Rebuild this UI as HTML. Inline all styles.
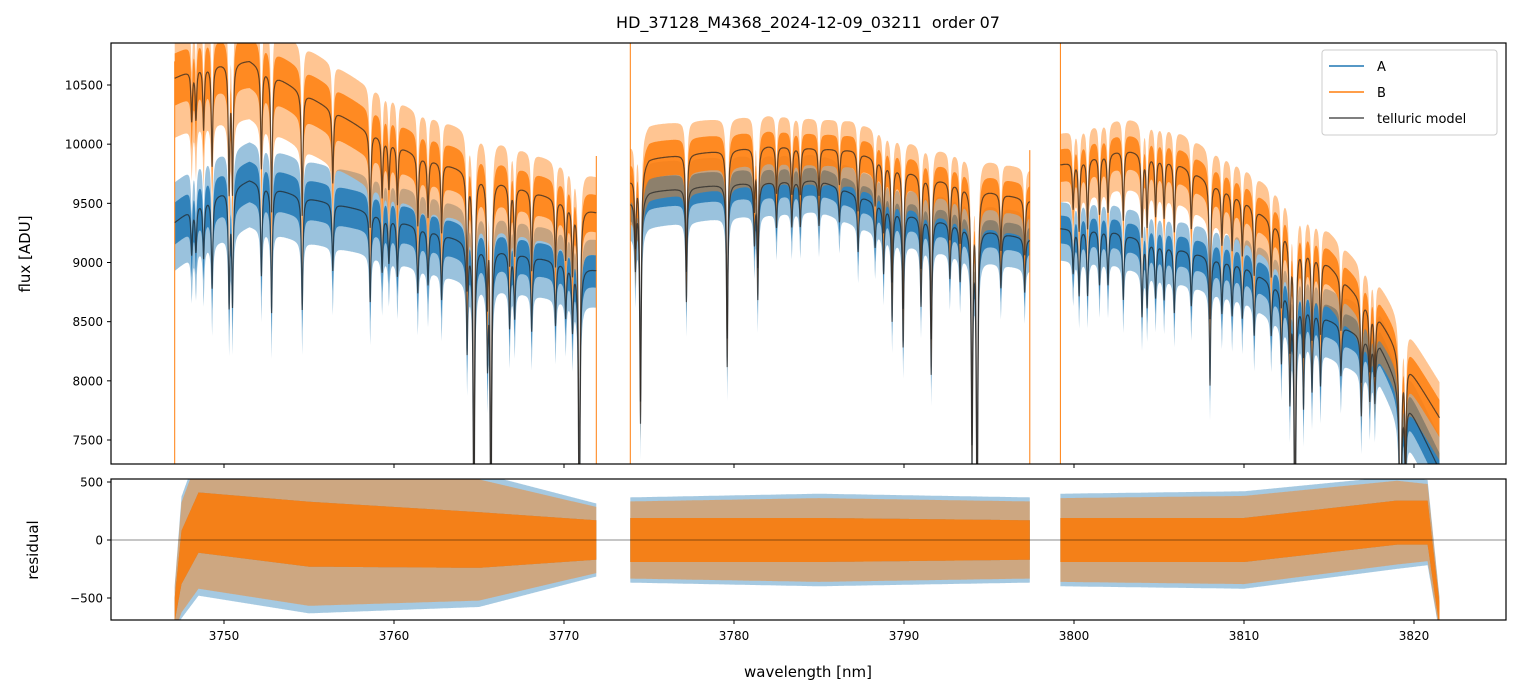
<!DOCTYPE html>
<html><head><meta charset="utf-8">
<style>
html,body{margin:0;padding:0;background:#fff;width:1520px;height:696px;overflow:hidden;}
svg{display:block;font-family:"DejaVu Sans","Liberation Sans",sans-serif;}
</style></head>
<body>
<svg id="chart" width="1520" height="696" viewBox="0 0 1520 696" xmlns="http://www.w3.org/2000/svg">
<defs>
<clipPath id="clipTop"><rect x="111" y="43" width="1395" height="421"/></clipPath>
<clipPath id="clipRes"><rect x="111" y="479" width="1395" height="141"/></clipPath>
</defs>
<text x="808" y="28" font-size="16" text-anchor="middle" fill="#000" style="white-space:pre">HD_37128_M4368_2024-12-09_03211  order 07</text>
<g id="topG" clip-path="url(#clipTop)"></g>
<g id="resG" clip-path="url(#clipRes)"></g>
<rect x="111" y="43" width="1395" height="421" fill="none" stroke="#000" stroke-width="1.2"/>
<rect x="111" y="479" width="1395" height="141" fill="none" stroke="#000" stroke-width="1.2"/>
<g id="axesG"></g>
<text x="0" y="0" font-size="15" text-anchor="middle" transform="translate(30,254) rotate(-90)">flux [ADU]</text>
<text x="0" y="0" font-size="15" text-anchor="middle" transform="translate(38,550) rotate(-90)">residual</text>
<text x="808" y="677" font-size="15" text-anchor="middle">wavelength [nm]</text>
<g id="legendG">
<rect x="1322" y="50" width="175" height="85" rx="3" fill="#fff" fill-opacity="0.85" stroke="#ccc"/>
<line x1="1329" y1="66" x2="1364" y2="66" stroke="#1f77b4" stroke-width="1.5"/>
<text x="1377" y="71" font-size="13">A</text>
<line x1="1329" y1="92" x2="1364" y2="92" stroke="#ff7f0e" stroke-width="1.5"/>
<text x="1377" y="97" font-size="13">B</text>
<line x1="1329" y1="118" x2="1364" y2="118" stroke="#555" stroke-width="1.5"/>
<text x="1377" y="123" font-size="13">telluric model</text>
</g>
</svg>
<script>
// ---- data ----
const segments = [[3747.1, 3771.9], [3773.9, 3797.4], [3799.2, 3821.5]];
const contAWl = [3747.1, 3748.5, 3751.5, 3754.5, 3758, 3761.5, 3765, 3771.9, 3773.9, 3775, 3780, 3785, 3790, 3797.4, 3799.2, 3802, 3805, 3810, 3815, 3818, 3821.5];
const contAVal = [9340, 9500, 9700, 9560, 9450, 9300, 9150, 8940, 9520, 9600, 9670, 9700, 9420, 9200, 9290, 9280, 9160, 8980, 8520, 8300, 7250];
const contBWl = [3747.1, 3748.5, 3751.5, 3754.5, 3758, 3761.5, 3765, 3771.9, 3773.9, 3775, 3782, 3787, 3791, 3797.4, 3799.2, 3803, 3806, 3810, 3815, 3818, 3821.5];
const contBVal = [10560, 10660, 10710, 10450, 10150, 9900, 9750, 9430, 9700, 9880, 9990, 9950, 9740, 9530, 9830, 9960, 9850, 9530, 8980, 8520, 7690];
const lineWl = [3748.1, 3748.35, 3748.8, 3749.3, 3750.3, 3750.5, 3752.2, 3752.8, 3754.6, 3756.4, 3758.6, 3759.3, 3759.7, 3760.2, 3761.4, 3762.0, 3762.8, 3764.3, 3764.7, 3765.5, 3765.7, 3766.8, 3767.1, 3768.1, 3769.5, 3770.1, 3770.5, 3770.9,
  3774.2, 3774.5, 3777.2, 3779.6, 3781.2, 3781.4, 3782.5, 3783.4, 3783.9, 3785.0, 3786.2, 3787.3, 3788.3, 3788.8, 3789.3, 3789.95, 3791.0, 3791.6, 3792.7, 3793.3, 3794.0, 3794.3, 3795.7, 3797.1,
  3799.95, 3800.3, 3800.8, 3801.5, 3802.0, 3802.9, 3804.0, 3804.3, 3804.8, 3805.3, 3805.9, 3806.9, 3808.0, 3808.7, 3809.3, 3809.9, 3810.6, 3811.6, 3812.2, 3812.7, 3813.0, 3813.5, 3814.0, 3814.5, 3815.7, 3816.9, 3817.4, 3817.7, 3819.2, 3819.5];
const lineDepth = [0.04, 0.04, 0.05, 0.08, 0.1, 0.1, 0.08, 0.11, 0.1, 0.06, 0.08, 0.05, 0.04, 0.05, 0.06, 0.05, 0.06, 0.1, 0.3, 0.1, 0.3, 0.07, 0.06, 0.07, 0.06, 0.05, 0.06, 0.3,
  0.06, 0.2, 0.1, 0.16, 0.05, 0.1, 0.04, 0.04, 0.04, 0.04, 0.03, 0.05, 0.04, 0.06, 0.1, 0.12, 0.08, 0.14, 0.05, 0.05, 0.22, 0.3, 0.05, 0.05,
  0.04, 0.06, 0.06, 0.05, 0.05, 0.06, 0.07, 0.06, 0.05, 0.05, 0.06, 0.05, 0.12, 0.05, 0.05, 0.05, 0.06, 0.05, 0.07, 0.1, 0.3, 0.1, 0.08, 0.07, 0.05, 0.08, 0.06, 0.06, 0.3, 0.1];
const noiseWl = [3747.1, 3760, 3771.9, 3785, 3797.4, 3810, 3821.5];
const noiseA = [340, 300, 260, 220, 220, 250, 280];
const noiseB = [420, 380, 300, 250, 260, 280, 300];
const resWl = [3747.1, 3747.5, 3748.5, 3755, 3765, 3771.9, 3773.9, 3785, 3797.4, 3799.2, 3810, 3819, 3820.8, 3821.5];
const resCenter = [-600, -150, 150, 50, 0, 0, 0, 0, 0, 0, 0, 150, 150, -650];
const resCore = [100, 230, 260, 280, 240, 170, 190, 190, 170, 190, 190, 190, 190, 100];
const resSpike = [200, 500, 600, 650, 550, 300, 350, 380, 350, 380, 400, 380, 350, 150];
const edgeSpikeWl = [3747.1, 3771.9, 3773.9, 3797.4, 3799.2];
const edgeSpikeTop = [10700, 9900, 12000, 9950, 12000];
const xTicks = [3750, 3760, 3770, 3780, 3790, 3800, 3810, 3820];
const yTicks = [7500, 8000, 8500, 9000, 9500, 10000, 10500];
const resTicks = [-500, 0, 500];
const resTickLabels = ["\u2212500", "0", "500"];

// ---- scales ----
const X = w => 224 + (w - 3750) * 17;
const Y = v => 85 + (10500 - v) * 0.118333;
const YR = v => 540 - v * 0.116;
const NS = "http://www.w3.org/2000/svg";
function interp(xs, ys, x) {
  if (x <= xs[0]) return ys[0];
  for (let i = 1; i < xs.length; i++) if (x <= xs[i]) { const t = (x - xs[i-1]) / (xs[i] - xs[i-1]); return ys[i-1] + t * (ys[i] - ys[i-1]); }
  return ys[ys.length - 1];
}
function trans(w) {
  let f = 1;
  for (let i = 0; i < lineWl.length; i++) { const d = (w - lineWl[i]) / 0.05; f *= 1 - lineDepth[i] / (1 + d * d); }
  return f;
}
function segSlice(xs, ys, a, b) {
  const ox = [], oy = [];
  for (let i = 0; i < xs.length; i++) if (xs[i] >= a - 1e-6 && xs[i] <= b + 1e-6) { ox.push(xs[i]); oy.push(ys[i]); }
  return [ox, oy];
}
function mk(tag, attrs, parent) { const e = document.createElementNS(NS, tag); for (const k in attrs) e.setAttribute(k, attrs[k]); parent.appendChild(e); return e; }
const topG = document.getElementById('topG'), resG = document.getElementById('resG'), axesG = document.getElementById('axesG');

function bandPath(up, lo) {
  let d = 'M' + up.map(p => p[0].toFixed(1) + ',' + p[1].toFixed(1)).join('L');
  d += 'L' + lo.slice().reverse().map(p => p[0].toFixed(1) + ',' + p[1].toFixed(1)).join('L') + 'Z';
  return d;
}
const step = 0.025;
function drawFlux(cw, cv, noise, color, name) {
  segments.forEach((s, si) => {
    const [kx, ky] = segSlice(cw, cv, s[0], s[1]);
    const core = [], coreLo = [], outer = [], outerLo = [];
    for (let w = s[0]; w <= s[1] + 1e-9; w += step) {
      const tr = trans(w), m = interp(kx, ky, w) * tr, n = interp(noiseWl, noise, w);
      core.push([X(w), Y(m + n * 0.5)]); coreLo.push([X(w), Y(m - n * 0.55)]);
      outer.push([X(w), Y(m + n)]); outerLo.push([X(w), Y(m - n * 1.2)]);
    }
    const o = mk('path', {d: bandPath(outer, outerLo), fill: color, 'fill-opacity': 0.45}, topG);
    
    
    const c = mk('path', {d: bandPath(core, coreLo), fill: color, 'fill-opacity': 0.85}, topG);
    
    
  });
}
function drawModel(cw, cv, name) {
  segments.forEach((s, si) => {
    const [kx, ky] = segSlice(cw, cv, s[0], s[1]);
    const pts = [];
    for (let w = s[0]; w <= s[1] + 1e-9; w += step / 2) pts.push(X(w).toFixed(1) + ',' + Y(interp(kx, ky, w) * trans(w)).toFixed(1));
    const p = mk('polyline', {points: pts.join(' '), fill: 'none', stroke: '#222', 'stroke-opacity': 0.7, 'stroke-width': 1.2}, topG);
    
    
  });
}
drawFlux(contAWl, contAVal, noiseA, '#1f77b4', 'a');
drawFlux(contBWl, contBVal, noiseB, '#ff7f0e', 'b');
edgeSpikeWl.forEach((w, i) => {
  const l = mk('line', {x1: X(w), x2: X(w), y1: Y(edgeSpikeTop[i]), y2: 464, stroke: '#ff7f0e', 'stroke-width': 1}, topG);
  
  
});
drawModel(contAWl, contAVal, 'model-a');
drawModel(contBWl, contBVal, 'model-b');

[['#1f77b4', 1.05, 1.0, 'a', 0.4, 0.8], ['#ff7f0e', 0.95, 1.0, 'b', 0.45, 0.9]].forEach(([col, ks, kc2, nm, op1, op2]) => {
  segments.forEach((s, si) => {
    const [kx, kc] = segSlice(resWl, resCenter, s[0], s[1]);
    const [, kcore] = segSlice(resWl, resCore, s[0], s[1]);
    const [, ksp] = segSlice(resWl, resSpike, s[0], s[1]);
    const up = [], lo = [], up2 = [], lo2 = [];
    for (let w = s[0]; w <= s[1] + 1e-9; w += step) {
      const c = interp(kx, kc, w), co = interp(kx, kcore, w) * kc2, sp = interp(kx, ksp, w) * ks;
      up.push([X(w), YR(c + co)]); lo.push([X(w), YR(c - co)]);
      up2.push([X(w), YR(c + sp)]); lo2.push([X(w), YR(c - sp)]);
    }
    const o = mk('path', {d: bandPath(up2, lo2), fill: col, 'fill-opacity': op1}, resG);
    
    
    const c = mk('path', {d: bandPath(up, lo), fill: col, 'fill-opacity': op2}, resG);
    
    
  });
});
const zl = mk('line', {x1: 111, x2: 1506, y1: YR(0), y2: YR(0), stroke: '#000', 'stroke-opacity': 0.6, 'stroke-width': 0.8}, resG);



xTicks.forEach(t => {
  const x = X(t);
  const a = mk('line', {x1: x, x2: x, y1: 464, y2: 468, stroke: '#000'}, axesG);
  
  
  const b = mk('line', {x1: x, x2: x, y1: 620, y2: 624, stroke: '#000'}, axesG);
  
  
  const tx = mk('text', {x: x, y: 640, 'font-size': 12, 'text-anchor': 'middle'}, axesG);
  tx.textContent = t;
  
  
});
yTicks.forEach(t => {
  const y = Y(t);
  const a = mk('line', {x1: 107, x2: 111, y1: y, y2: y, stroke: '#000'}, axesG);
  
  
  const tx = mk('text', {x: 103, y: y + 4.5, 'font-size': 12, 'text-anchor': 'end'}, axesG);
  tx.textContent = t;
  
  
});
resTicks.forEach((t, i) => {
  const y = YR(t);
  const a = mk('line', {x1: 107, x2: 111, y1: y, y2: y, stroke: '#000'}, axesG);
  
  
  const tx = mk('text', {x: 103, y: y + 4.5, 'font-size': 12, 'text-anchor': 'end'}, axesG);
  tx.textContent = resTickLabels[i];
  
  
});
document.getElementById('chart').appendChild(document.getElementById('legendG'));
</script>
</body></html>
